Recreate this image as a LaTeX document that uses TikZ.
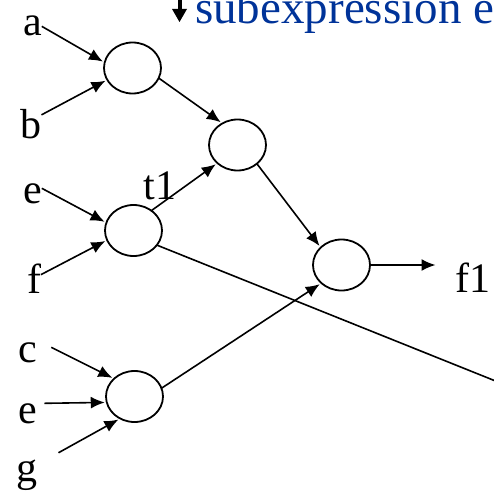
\documentclass[tikz,border=0pt]{standalone}
\usepackage{fontspec}
\setmainfont{Liberation Serif}
\usetikzlibrary{shapes.geometric,arrows.meta}
\definecolor{hdrblue}{HTML}{003399}
\begin{document}
\begin{tikzpicture}[x=1pt,y=-1pt,
  op/.style={draw, ellipse, line width=1.8pt, minimum width=57pt, minimum height=51pt, inner sep=0pt, outer sep=0pt},
  lbl/.style={anchor=base, inner sep=0pt, outer sep=0pt, font=\fontsize{42}{42}\selectfont},
  edge/.style={line width=1.6pt, shorten >=2pt, -{Latex[length=14pt,width=12pt]}},
  plain/.style={line width=1.6pt}]
\useasboundingbox (0,0) rectangle (493,495);

% header
\fill (177.5,0) rectangle (181.5,10);
\fill (172,9) -- (187,9) -- (179.5,22) -- cycle;
\node[anchor=base west, inner sep=0pt, font=\fontsize{47}{47}\selectfont, text=hdrblue] (hdr) at (195,24) {subexpression e};

% operator nodes
\node[op] (n1) at (132.5,68) {};
\node[op] (n2) at (237.5,145) {};
\node[op] (n3) at (133.5,230.5) {};
\node[op] (n4) at (341.5,265) {};
\node[op] (n5) at (134.5,396.5) {};

% labels
\node[lbl] (la) at (32.5,36) {a};
\node[lbl] (lb) at (31,138) {b};
\node[lbl] (le1) at (32.5,203) {e};
\node[lbl] (lf) at (34,293) {f};
\node[lbl] (lt1) at (160,199) {t1};
\node[lbl] (lf1) at (473,292) {f1};
\node[lbl] (lc) at (28,362) {c};
\node[lbl] (le2) at (28,423) {e};
\node[lbl] (lg) at (27,481) {g};

\coordinate (off) at (500,382.8);

% connectors
\draw[edge] (la.east) -- (n1.169);
\draw[edge] ([yshift=-6pt]lb.north east) -- (n1.205);
\draw[edge] (n1.-21) -- (n2.125);
\draw[edge] ([yshift=5pt]le1.east) -- (n3.164);
\draw[edge] ([yshift=3.6pt]lf.east) -- (n3.200);
\draw[edge] (n3.48) -- (n2.222);
\draw[edge] (n2.-44) -- (n4.140);
\draw[edge, shorten >=20pt] (n4.east) -- (n4.east -| lf1.west);
\draw[plain] (n3.-32) -- (off);
\draw[edge] (n5.17) -- (n4.222);
\draw[edge] ([xshift=14pt,yshift=5pt]lc.east) -- (n5.139);
\draw[edge] ([xshift=7pt,yshift=10pt]le2.east) -- (n5.192);
\draw[edge] ([xshift=21pt,yshift=6.7pt]lg.north east) -- (n5.237);
\end{tikzpicture}
\end{document}
